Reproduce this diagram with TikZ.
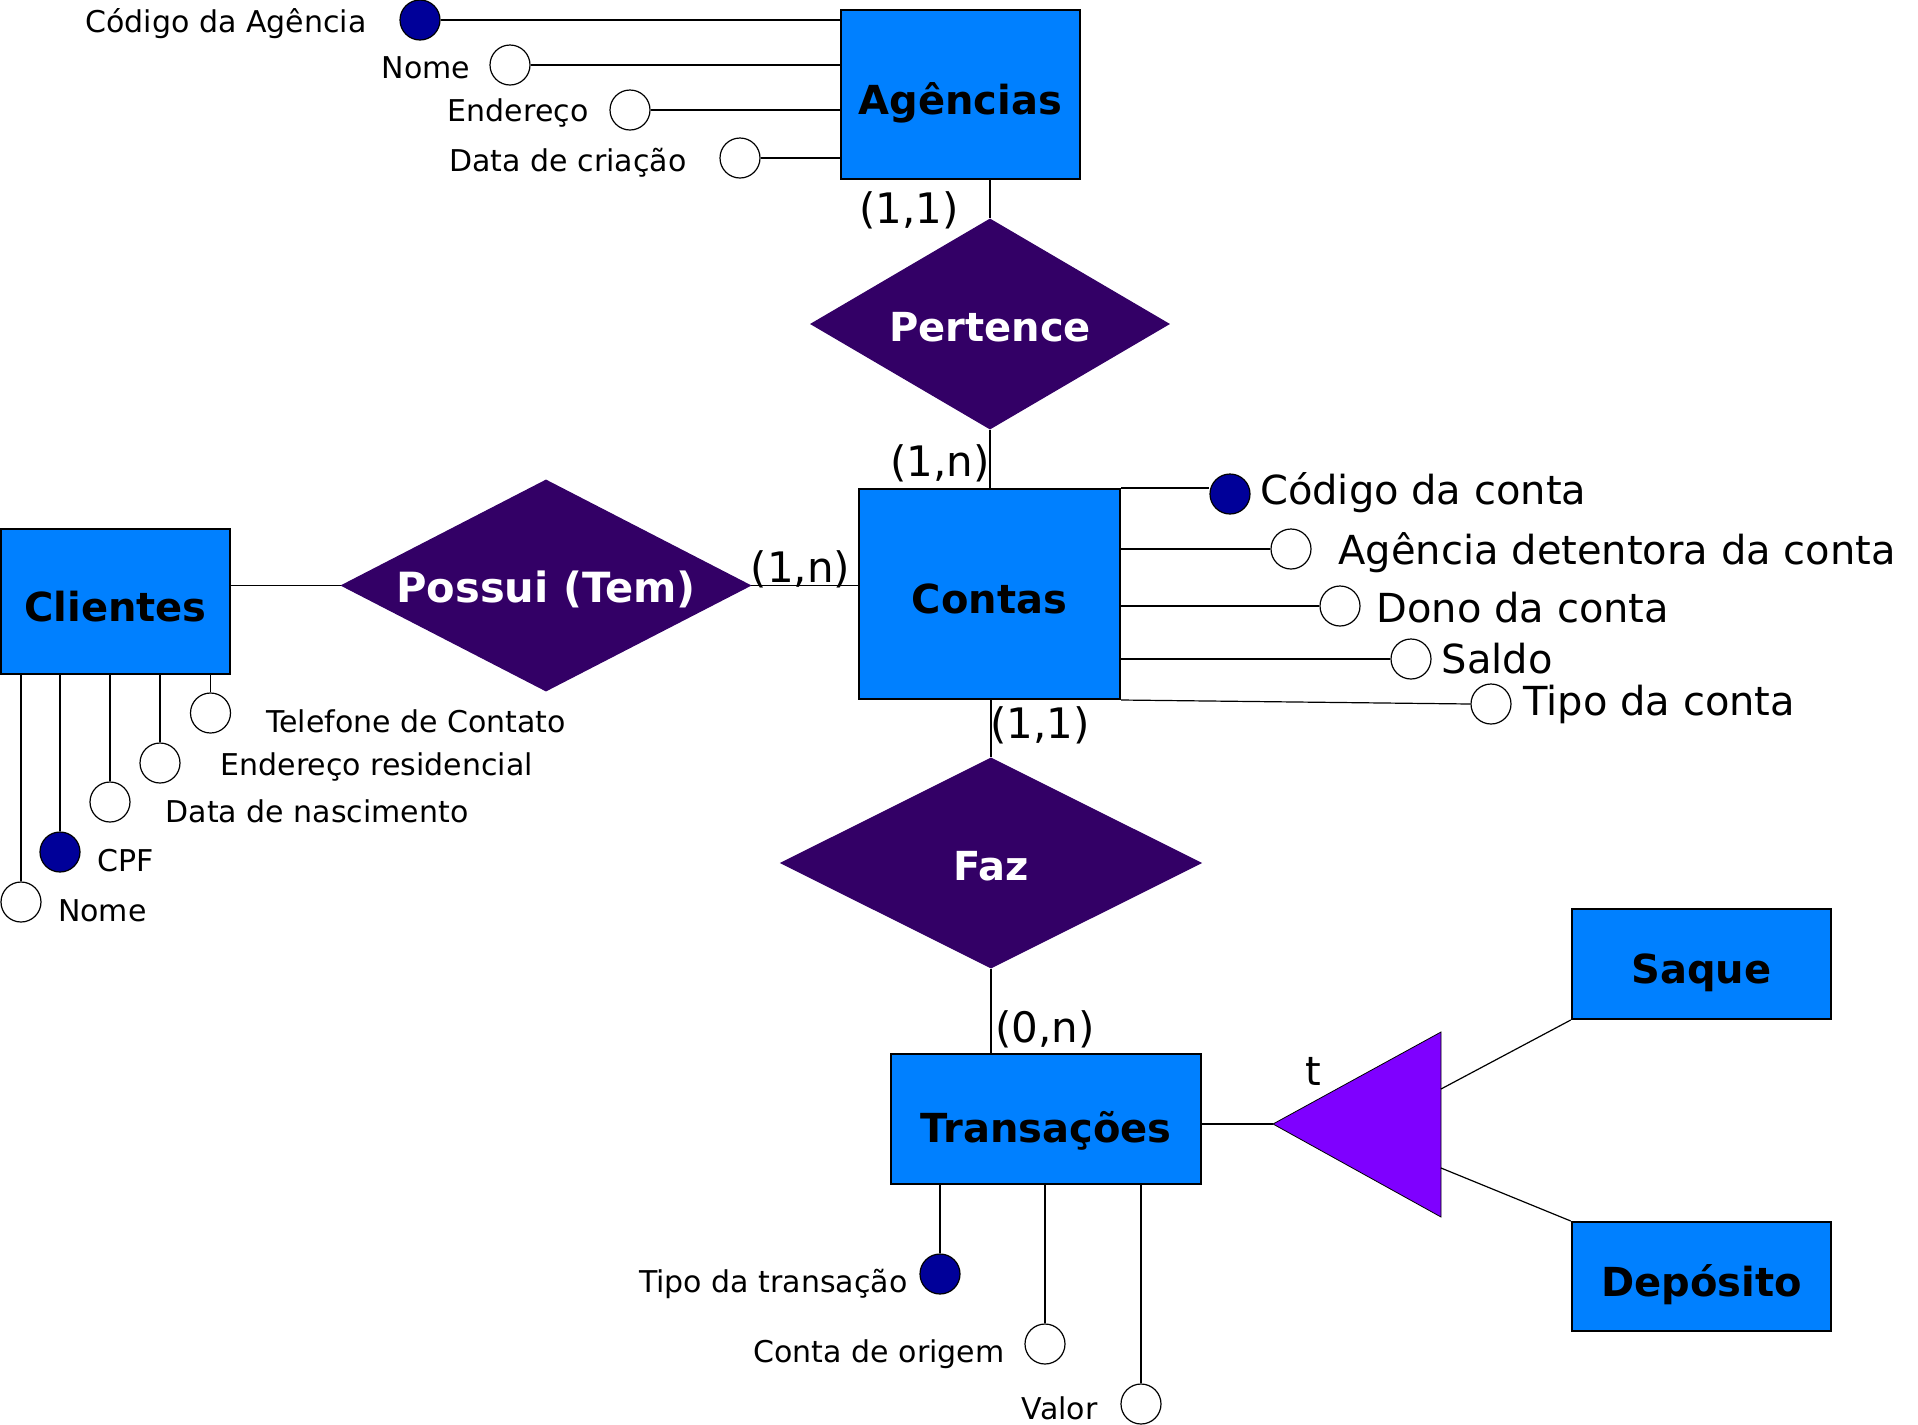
\documentclass[tikz,border=0pt]{standalone}
\usepackage{fontspec}
\setmainfont{DejaVu Sans}
\usetikzlibrary{shapes.geometric}

\definecolor{entblue}{RGB}{0,128,255}
\definecolor{relpurple}{RGB}{51,0,102}
\definecolor{keyblue}{RGB}{0,0,153}
\definecolor{genviolet}{RGB}{127,0,255}

\tikzset{every picture/.style={line width=0.6pt}}
\tikzset{
  entidade/.style={draw=black, line width=1pt, fill=entblue, inner sep=0pt, text height=24.6pt, text depth=5pt, font=\fontsize{20}{24}\selectfont\bfseries},
  relacao/.style={diamond, draw=relpurple, fill=relpurple, text=white, inner sep=0pt, text height=22pt, text depth=5pt, font=\fontsize{20}{24}\selectfont\bfseries},
  atributo/.style={circle, draw=black, fill=white, minimum size=20pt, inner sep=0pt},
  chave/.style={atributo, fill=keyblue},
  rotulo/.style={inner sep=0pt, font=\fontsize{15}{18}\selectfont},
  rotulog/.style={inner sep=0pt, font=\fontsize{20}{24}\selectfont},
  card/.style={inner sep=0pt, font=\fontsize{21}{25}\selectfont},
}

\begin{document}
\begin{tikzpicture}[x=0.5pt,y=0.5pt,yscale=-1,xscale=1]
    \useasboundingbox (0,0) rectangle (1918,1425);

    % Entidades
    \node [entidade, minimum width=119.5pt, minimum height=84.5pt] (ag) at (960.5,94.5) {Agências};
    \node [entidade, minimum width=130.5pt, minimum height=105pt] (ct) at (989.5,594) {Contas};
    \node [entidade, minimum width=114.5pt, minimum height=72.5pt] (cl) at (115.5,601.5) {Clientes};
    \node [entidade, minimum width=155pt, minimum height=65pt, text height=28.2pt] (tr) at (1046,1119) {Transações};
    \node [entidade, minimum width=129.75pt, minimum height=55pt] (sq) at (1701.5,964) {Saque};
    \node [entidade, minimum width=129.75pt, minimum height=54.5pt] (dp) at (1701.5,1276.5) {Depósito};

    % Relacionamentos
    \node [relacao, aspect=1.73, minimum width=179pt, minimum height=105pt] (pe) at (990,324) {Pertence};
    \node [relacao, aspect=2, minimum width=204.5pt, minimum height=105.5pt, font=\fontsize{20.8}{25}\selectfont\bfseries] (po) at (546,585.5) {Possui (Tem)};
    \node [relacao, aspect=2, minimum width=210pt, minimum height=105pt] (fz) at (991,863) {Faz};

    % Especializacao
    \coordinate (tri) at (1273,1124);
    \coordinate (tris) at (1441,1089);
    \coordinate (trid) at (1441,1168);
    \draw [fill=genviolet, draw=black, line width=0.4pt] (tri) -- (1441,1032) -- (1441,1217) -- cycle;
    \node [rotulog] (tt) at (1313,1071) {t};
    \draw (tr.east |- tri) -- (tri);
    \draw (tris) -- (sq.south west);
    \draw (trid) -- (dp.north west);

    % Ligacoes
    \draw (ag.south -| pe) -- (pe.north);
    \draw (pe.south) -- (ct.north -| pe.south);
    \draw (cl.east |- po) -- (po.west);
    \draw (po.east) -- (ct.west |- po.east);
    \draw (ct.south -| fz) -- (fz.north);
    \draw (fz.south) -- (fz.south |- tr.north);

    % Cardinalidades
    \node [card] (c1) at (909,210) {(1,1)};
    \node [card] (c2) at (940,463) {(1,n)};
    \node [card] (c3) at (800.5,569) {(1,n)};
    \node [card] (c4) at (1040,725) {(1,1)};
    \node [card] (c5) at (1045,1029) {(0,n)};

    % Atributos de Agências
    \node [chave] (agcod) at (420,20) {};
    \node [atributo] (agnom) at (510,65) {};
    \node [atributo] (agend) at (630,110) {};
    \node [atributo] (agdat) at (740,158) {};
    \foreach \a in {agcod,agnom,agend,agdat}
        \draw (\a.east) -- (\a.east -| ag.west);
    \node [rotulo, anchor=east] (tagcod) at (367,24) {Código da Agência};
    \node [rotulo, anchor=east] (tagnom) at (471,68) {Nome};
    \node [rotulo, anchor=east] (tagend) at (589,113) {Endereço};
    \node [rotulo, anchor=east] (tagdat) at (687,163) {Data de criação};

    % Atributos de Contas
    \node [chave] (ctcod) at (1230,494) {};
    \node [atributo] (ctage) at (1291,549) {};
    \node [atributo] (ctdon) at (1340,606) {};
    \node [atributo] (ctsal) at (1411,659) {};
    \node [atributo] (cttip) at (1491,704) {};
    \draw (ct.north east) -- (ct.north east -| ctcod.west);
    \foreach \a in {ctage,ctdon,ctsal}
        \draw (\a.west -| ct.east) -- (\a.west);
    \draw (ct.south east) -- (cttip.west);
    \node [rotulog, anchor=west] (tctcod) at (1259.5,493) {Código da conta};
    \node [rotulog, anchor=west] (tctage) at (1338,553) {Agência detentora da conta};
    \node [rotulog, anchor=west] (tctdon) at (1376,608) {Dono da conta};
    \node [rotulog, anchor=west] (tctsal) at (1441,659) {Saldo};
    \node [rotulog, anchor=west] (tcttip) at (1523,704) {Tipo da conta};

    % Atributos de Clientes
    \node [atributo] (cltel) at (210.5,713) {};
    \node [atributo] (clend) at (160,763) {};
    \node [atributo] (cldat) at (110,802) {};
    \node [chave] (clcpf) at (60,852) {};
    \node [atributo] (clnom) at (21,902) {};
    \foreach \a in {cltel,clend,cldat,clcpf,clnom}
        \draw (cl.south -| \a.north) -- (\a.north);
    \node [rotulo, anchor=west] (tcltel) at (265.5,721) {Telefone de Contato};
    \node [rotulo, anchor=west] (tclend) at (220,767) {Endereço residencial};
    \node [rotulo, anchor=west] (tcldat) at (165,811) {Data de nascimento};
    \node [rotulo, anchor=west] (tclcpf) at (97,861) {CPF};
    \node [rotulo, anchor=west] (tclnom) at (57.5,911) {Nome};

    % Atributos de Transações
    \node [chave] (trtip) at (940,1274) {};
    \node [atributo] (trcon) at (1045,1344) {};
    \node [atributo] (trval) at (1141,1404) {};
    \foreach \a in {trtip,trcon,trval}
        \draw (tr.south -| \a.north) -- (\a.north);
    \node [rotulo, anchor=east] (ttrtip) at (908,1284) {Tipo da transação};
    \node [rotulo, anchor=east] (ttrcon) at (1005,1354) {Conta de origem};
    \node [rotulo, anchor=east] (ttrval) at (1098,1408) {Valor};

\end{tikzpicture}
\end{document}
